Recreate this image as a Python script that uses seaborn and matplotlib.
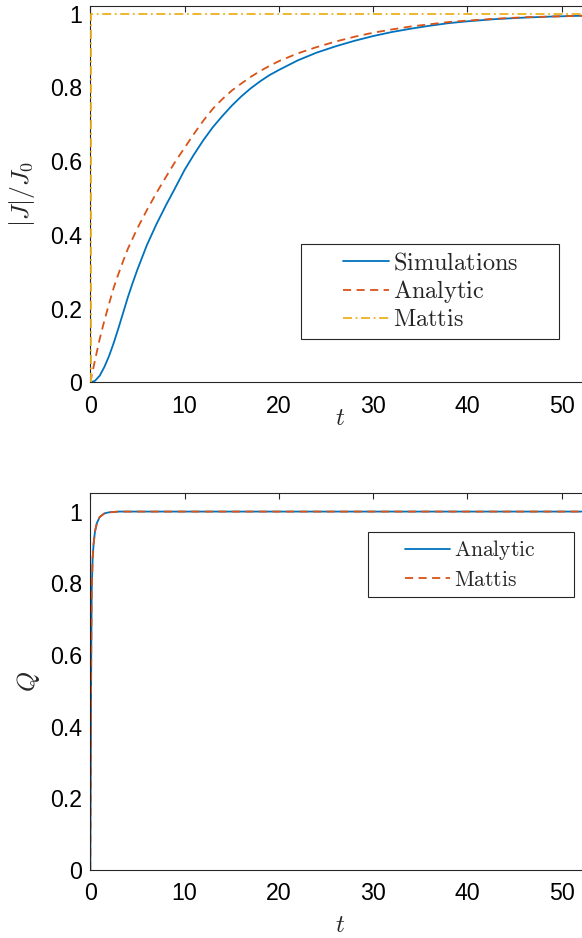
import matplotlib
matplotlib.use("Agg")
import matplotlib.pyplot as plt
from matplotlib.patches import Rectangle
from matplotlib.ticker import FuncFormatter
import seaborn as sns

# top panel: |J|/J0 vs t
sim_t = [0, 0.5, 1, 1.5, 2, 2.5, 3, 3.5, 4, 4.5, 5, 6, 7, 8, 9, 10, 11, 12, 13, 14, 15,
         16, 17, 18, 19, 20, 22, 24, 26, 28, 30, 32, 34, 36, 38, 40, 43, 46, 49, 52.15]
sim_v = [0, 0.004, 0.018, 0.042, 0.072, 0.108, 0.148, 0.19, 0.232, 0.27, 0.306, 0.372,
         0.428, 0.479, 0.527, 0.576, 0.618, 0.657, 0.692, 0.722, 0.75, 0.775, 0.797,
         0.816, 0.833, 0.847, 0.873, 0.894, 0.911, 0.926, 0.939, 0.95, 0.959, 0.967,
         0.974, 0.979, 0.985, 0.989, 0.992, 0.994]

ana_t = [0, 0.5, 1, 1.5, 2, 2.5, 3, 3.5, 4, 5, 6, 7, 8, 9, 10, 11, 12, 13, 14, 15, 16, 17,
         18, 19, 20, 22, 24, 26, 28, 30, 32, 34, 36, 38, 40, 43, 46, 49, 52.15]
ana_v = [0, 0.06, 0.118, 0.168, 0.214, 0.258, 0.295, 0.33, 0.363, 0.418, 0.467, 0.513,
         0.556, 0.598, 0.636, 0.674, 0.71, 0.742, 0.768, 0.791, 0.81, 0.828, 0.844, 0.858,
         0.871, 0.892, 0.909, 0.924, 0.937, 0.948, 0.957, 0.965, 0.971, 0.977, 0.981,
         0.986, 0.99, 0.992, 0.994]

mattis_t = [0.1, 0.1, 52.15]
mattis_v = [0, 1, 1]

# bottom panel: Q vs t
q_t = [0, 0.05, 0.1, 0.15, 0.25, 0.35, 0.5, 0.7, 1.0, 1.5, 2.0, 3.0, 52.15]
q_ana = [0, 0.3, 0.6, 0.78, 0.87, 0.91, 0.945, 0.968, 0.985, 0.995, 0.998, 1.0, 1.0]
q_mattis = [0, 0.3, 0.6, 0.78, 0.87, 0.91, 0.945, 0.968, 0.985, 0.995, 0.998, 1.0, 1.0]

xticks = [0, 10, 20, 30, 40, 50]
yticks = [0, 0.2, 0.4, 0.6, 0.8, 1]

BLUE, ORANGE, YELLOW = "#0072BD", "#D95319", "#EDB120"
EDGE = "#262626"
DASH = (0, (4.5, 3))
DASHDOT = (0, (5, 2, 1, 2))

sns.set_style("white")
plt.rcParams["font.family"] = ["Liberation Sans", "DejaVu Sans"]
plt.rcParams["mathtext.fontset"] = "cm"

W, H = 582, 938
fig = plt.figure(figsize=(W / 100, H / 100), dpi=100)
left = 90.3 / W
ax1 = fig.add_axes([left, 1 - 382.3 / H, 1 - left, 376 / H])
ax2 = fig.add_axes([left, 1 - 870 / H, 1 - left, 376.7 / H])

lw = 1.3
line_kw = dict(estimator=None, sort=False, lw=lw)
sns.lineplot(x=sim_t, y=sim_v, ax=ax1, color=BLUE, label="Simulations", **line_kw)
sns.lineplot(x=ana_t, y=ana_v, ax=ax1, color=ORANGE, linestyle=DASH, label="Analytic", **line_kw)
sns.lineplot(x=mattis_t, y=mattis_v, ax=ax1, color=YELLOW, linestyle=DASHDOT, label="Mattis",
             zorder=3, **line_kw)

sns.lineplot(x=q_t, y=q_ana, ax=ax2, color=BLUE, label="Analytic", **line_kw)
sns.lineplot(x=q_t, y=q_mattis, ax=ax2, color=ORANGE, linestyle=DASH, label="Mattis", **line_kw)

fmt = FuncFormatter(lambda v, p: f"{v:g}")
for ax, ytop, tpos in [(ax1, 1.0197, 418 - 382.3), (ax2, 1.051, 925 - 870)]:
    ax.set_xlim(0, 52.15)
    ax.set_ylim(0, ytop)
    ax.set_xticks(xticks)
    ax.set_yticks(yticks)
    ax.yaxis.set_major_formatter(fmt)
    ax.tick_params(direction="in", length=4, width=0.8, color=EDGE, labelsize=16.7,
                   top=True, right=False, labelcolor="black")
    ax.tick_params(axis="x", pad=9)
    ax.tick_params(axis="y", pad=6)
    for s in ["left", "bottom", "top"]:
        ax.spines[s].set_color(EDGE)
        ax.spines[s].set_linewidth(0.8)
    ax.spines["right"].set_visible(False)
    ax.set_xlabel("$t$", fontsize=18, va="center")
    ax.xaxis.set_label_coords((340 - 90.3) / 491.7, -tpos / 376)

ax1.set_ylabel(r"$|J|/J_0$", fontsize=18.5, va="center")
ax1.yaxis.set_label_coords(-(90.3 - 22) / 491.7, 0.5)
ax2.set_ylabel("$Q$", fontsize=18.5, va="center")
ax2.yaxis.set_label_coords(-(90.3 - 28) / 491.7, 0.5)


def boxed_legend(ax, labels, box, anchor, size, hlen, spacing):
    handles, _ = ax.get_legend_handles_labels()
    leg = ax.legend(handles, [r"$\mathrm{" + s + "}$" for s in labels], loc="center left",
                    bbox_to_anchor=anchor, frameon=False, fontsize=size, borderpad=0,
                    borderaxespad=0, handlelength=hlen, handletextpad=0.17,
                    labelspacing=spacing)
    x0, y0, x1, y1 = box
    ax.add_patch(Rectangle((x0, y0), x1 - x0, y1 - y0, transform=ax.transAxes,
                           fill=True, facecolor="white", edgecolor=EDGE, lw=0.8, zorder=4))
    leg.set_zorder(5)


boxed_legend(ax1, ["Simulations", "Analytic", "Mattis"],
             (0.4289, 0.1152, 0.9539, 0.367), (0.5142, 0.241), 17.5, 1.89, 0.17)
boxed_legend(ax2, ["Analytic", "Mattis"],
             (0.5644, 0.7255, 0.9831, 0.8965), (0.6402, 0.811), 15.5, 2.1, 0.33)

fig.savefig("out.png", dpi=100)
